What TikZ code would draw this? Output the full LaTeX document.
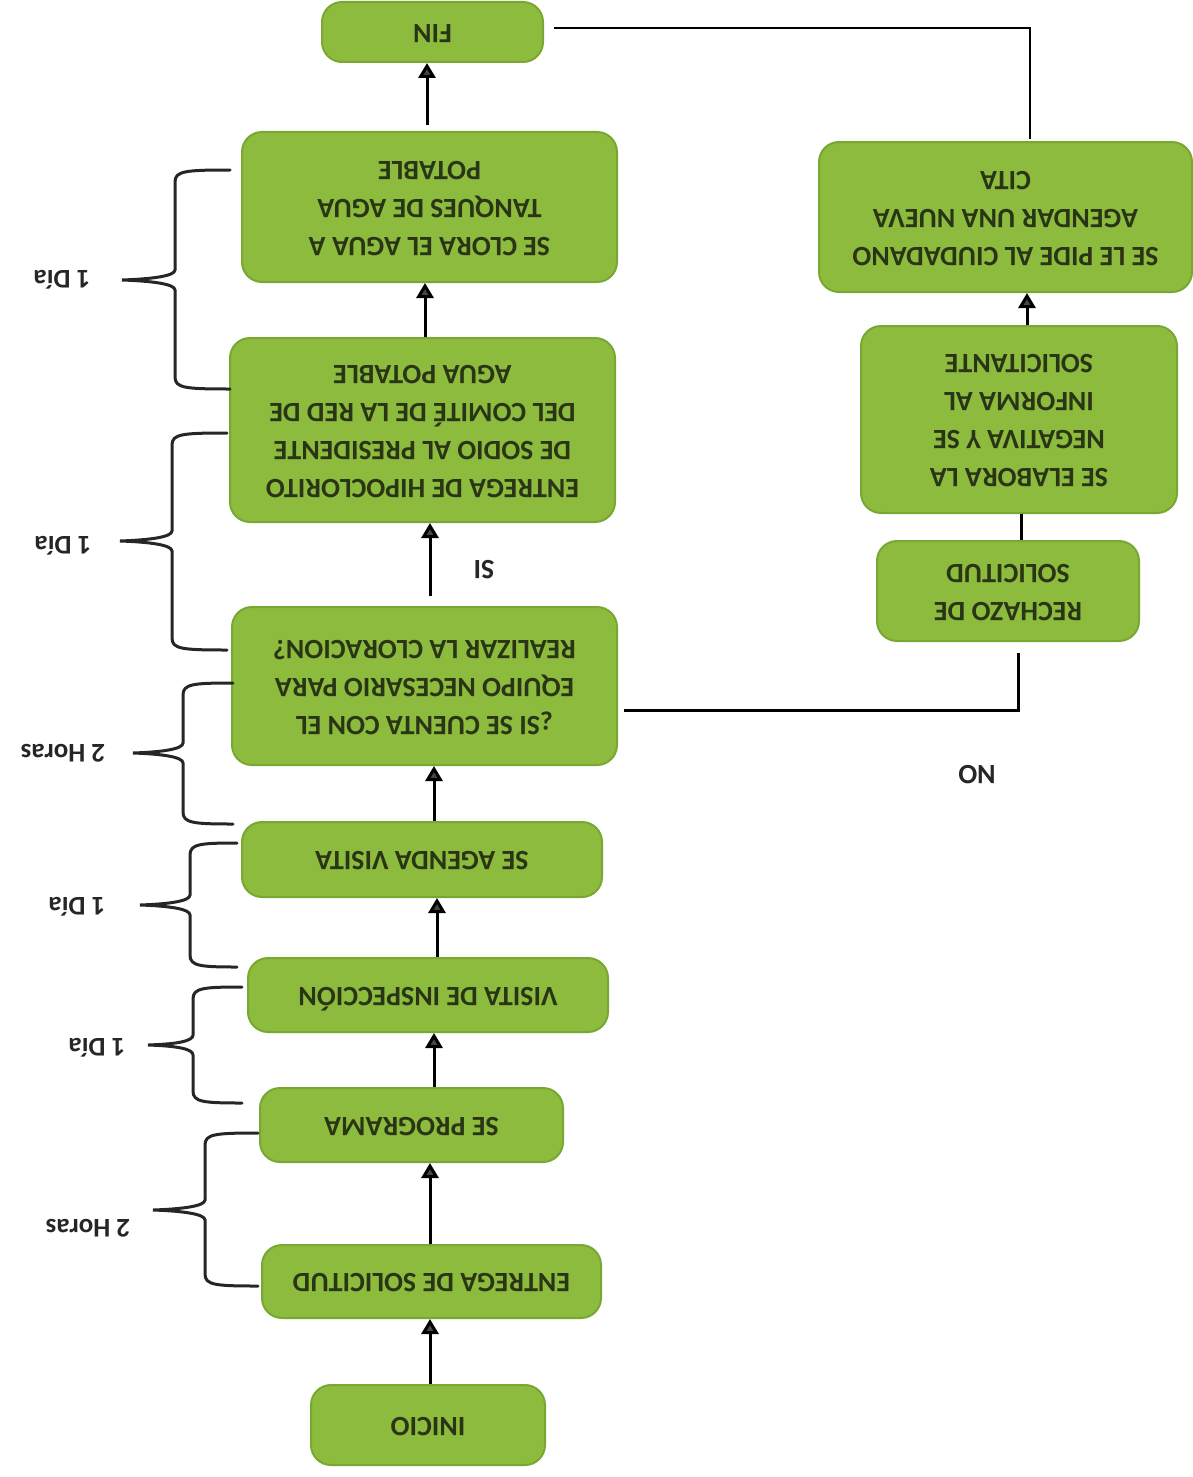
\documentclass[tikz,border=0pt]{standalone}
\usepackage{fontspec}
\setmainfont{Carlito}
\usetikzlibrary{arrows.meta,calc}
\definecolor{boxfill}{HTML}{8CBB3E}
\definecolor{boxline}{HTML}{79A832}
\definecolor{boxtext}{HTML}{2A3516}
\definecolor{tipgray}{HTML}{454545}
\newcommand\updown[1]{\rotatebox[origin=c]{180}{\begin{tabular}{@{}c@{}}#1\end{tabular}}}
\tikzset{
  box/.style={draw=boxline, line width=1pt, fill=boxfill, rounded corners=10pt,
    inner sep=0pt, text=boxtext, font=\fontsize{14}{19}\selectfont\bfseries},
  arr/.style={line width=1.5pt, draw=black, -{Triangle[width=8.5pt,length=7.5pt,fill=tipgray]}},
  plain/.style={line width=1pt, draw=black},
  bracepath/.style={line width=1.5pt, draw=black!85, line cap=round},
  lbl/.style={font=\fontsize{13.5}{15}\selectfont\bfseries, rotate=180, text=black!85}
}
% brace: xr xv xt ytop ymid ybot (pixel units)
\newcommand\mybrace[6]{%
  \draw[bracepath] (#1,#4) .. controls (#2+10,#4) and (#2,#4+1) .. (#2,#4+12)
    -- (#2,#5-10) .. controls (#2,#5-4) and (#3+30,#5-1) .. (#3,#5)
    .. controls (#3+30,#5+1) and (#2,#5+4) .. (#2,#5+10)
    -- (#2,#6-12) .. controls (#2,#6-1) and (#2+10,#6) .. (#1,#6);}
\begin{document}
\begin{tikzpicture}[x=0.5pt,y=-0.5pt]
\useasboundingbox (0,0) rectangle (1193,1477);
% main column
\node[box, minimum width=110.5pt, minimum height=30pt] (fin) at (432.5,32) {\updown{FIN}};
\node[box, minimum width=187.5pt, minimum height=75pt] (clora) at (429.5,207) {\updown{SE CLORA EL AGUA A\\TANQUES DE AGUA\\POTABLE}};
\node[box, minimum width=192.5pt, minimum height=92pt] (hipo) at (422.5,430) {\updown{ENTREGA DE HIPOCLORITO\\DE SODIO AL PRESIDENTE\\DEL COMITÉ DE LA RED DE\\AGUA POTABLE}};
\node[box, minimum width=192.5pt, minimum height=79pt] (decision) at (424.5,686) {\updown{¿SI SE CUENTA CON EL\\EQUIPO NECESARIO PARA\\REALIZAR LA CLORACION?}};
\node[box, minimum width=180pt, minimum height=37.5pt] (agenda) at (422,859.5) {\updown{SE AGENDA VISITA}};
\node[box, minimum width=180pt, minimum height=37pt] (visita) at (428,995) {\updown{VISITA DE INSPECCIÓN}};
\node[box, minimum width=151.5pt, minimum height=37pt] (programa) at (411.5,1125) {\updown{SE PROGRAMA}};
\node[box, minimum width=169.5pt, minimum height=36.5pt] (entrega) at (431.5,1281.5) {\updown{ENTREGA DE SOLICITUD}};
\node[box, minimum width=117pt, minimum height=40pt] (inicio) at (428,1425) {\updown{INICIO}};
% right column
\node[box, minimum width=186.5pt, minimum height=75pt] (pide) at (1005.5,217) {\updown{SE LE PIDE AL CIUDADANO\\AGENDAR UNA NUEVA\\CITA}};
\node[box, minimum width=158pt, minimum height=93.5pt] (elabora) at (1019,419.5) {\updown{SE ELABORA LA\\NEGATIVA Y SE\\INFORMA AL\\SOLICITANTE}};
\node[box, minimum width=131pt, minimum height=50pt] (rechazo) at (1008,591) {\updown{RECHAZO DE\\SOLICITUD}};
% connectors
\draw[arr] ([xshift=1pt]inicio.north) -- ([xshift=1pt]inicio.north |- entrega.south);
\draw[arr] ([xshift=-0.75pt]entrega.north) -- ([xshift=-0.75pt]entrega.north |- programa.south);
\draw[arr] ([xshift=11.25pt]programa.north) -- ([xshift=11.25pt]programa.north |- visita.south);
\draw[arr] ([xshift=7.5pt]agenda.south |- visita.north) -- ([xshift=7.5pt]agenda.south);
\draw[arr] ([xshift=6pt]agenda.north) -- ([xshift=6pt]agenda.north |- decision.south);
\draw[arr, shorten <=5pt] ([xshift=2.75pt]decision.north) -- ([xshift=2.75pt]decision.north |- hipo.south);
\draw[arr] ([xshift=1.25pt]hipo.north) -- ([xshift=1.25pt]hipo.north |- clora.south);
\draw[arr, shorten <=3pt] ([xshift=-1.25pt]clora.north) -- ([xshift=-1.25pt]clora.north |- fin.south);
\node[lbl, font=\fontsize{14}{16}\selectfont\bfseries] (si) at (484,570) {SI};
\node[lbl, font=\fontsize{14}{16}\selectfont\bfseries] (no) at (977,775) {NO};
\draw[plain, line width=1.5pt] ([xshift=3pt,yshift=-12pt]decision.east) -| ([xshift=5pt,yshift=-5.5pt]rechazo.south);
\draw[plain, line width=1.5pt] ([xshift=6.5pt]rechazo.north) -- ([xshift=6.5pt]rechazo.north |- elabora.south);
\draw[arr] ([xshift=4pt]elabora.north) -- ([xshift=4pt]elabora.north |- pide.south);
\draw[plain] ([xshift=12.25pt,yshift=1pt]pide.north) |- ([xshift=5pt,yshift=2pt]fin.east);
% braces and durations
\mybrace{230}{175}{122}{170}{280}{389}
\node[lbl] (d1) at (62,280) {1 Día};
\mybrace{227}{172}{120}{433}{541}{650}
\node[lbl] (d2) at (63,546) {1 Día};
\mybrace{233}{183}{133}{683}{753}{824}
\node[lbl] (d3) at (63,753) {2 Horas};
\mybrace{237}{190}{140}{843}{905}{967}
\node[lbl] (d4) at (77,907) {1 Día};
\mybrace{242}{193}{148}{987}{1045}{1103}
\node[lbl] (d5) at (97,1048) {1 Día};
\mybrace{258}{205}{153}{1133}{1210}{1286}
\node[lbl] (d6) at (88,1228) {2 Horas};
\end{tikzpicture}
\end{document}
